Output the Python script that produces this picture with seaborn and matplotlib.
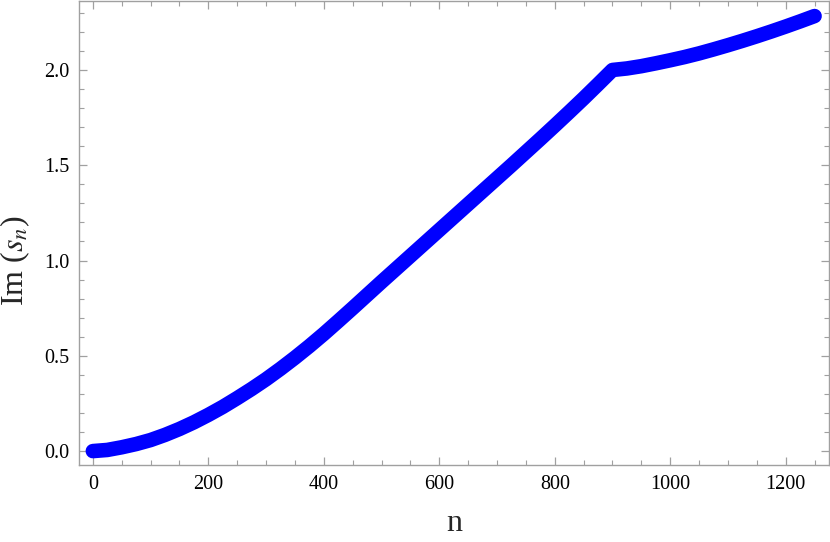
import numpy as np
import pandas as pd
import matplotlib
matplotlib.use("Agg")
import matplotlib.pyplot as plt
import seaborn as sns
from matplotlib.ticker import MultipleLocator

# values
n_vals = [0, 25, 50, 75, 100, 125, 150, 175, 200, 225, 250, 275, 300, 325,
          350, 375, 400, 425, 450, 475, 500, 525, 550, 575, 600, 625, 650,
          675, 700, 725, 750, 775, 800, 825, 850, 875, 900, 925, 950, 975,
          1000, 1025, 1050, 1075, 1100, 1125, 1150, 1175, 1200, 1225, 1250]
im_vals = [0.0, 0.006, 0.020, 0.037, 0.058, 0.085, 0.116, 0.151, 0.190,
           0.232, 0.278, 0.326, 0.377, 0.432, 0.490, 0.551, 0.615, 0.682,
           0.750, 0.819, 0.888, 0.956, 1.024, 1.092, 1.160, 1.228, 1.296,
           1.364, 1.432, 1.500, 1.569, 1.638, 1.708, 1.779, 1.851, 1.925,
           2.000, 2.008, 2.020, 2.035, 2.051, 2.068, 2.087, 2.108, 2.130,
           2.153, 2.177, 2.202, 2.228, 2.255, 2.283]

df = pd.DataFrame({"n": n_vals, "im": im_vals})

sns.set_style("ticks")
plt.rcParams["font.family"] = ["Liberation Serif", "DejaVu Serif"]
plt.rcParams["mathtext.fontset"] = "stix"

fig = plt.figure(figsize=(8.3, 5.42), dpi=100)
ax = fig.add_axes([79 / 830, 77 / 542, 750 / 830, 464 / 542])

sns.lineplot(data=df, x="n", y="im", ax=ax, color="#0000ff", linewidth=10.5,
             solid_capstyle="round", solid_joinstyle="round")

ax.set_xlim(-24, 1275)
ax.set_ylim(-0.073, 2.362)
ax.xaxis.set_major_locator(MultipleLocator(200))
ax.xaxis.set_minor_locator(MultipleLocator(50))
ax.yaxis.set_major_locator(MultipleLocator(0.5))
ax.yaxis.set_minor_locator(MultipleLocator(0.1))
ax.yaxis.set_major_formatter(matplotlib.ticker.FormatStrFormatter("%.1f"))

frame = "#a0a0a0"
for s in ax.spines.values():
    s.set_color(frame)
    s.set_linewidth(1.0)
ax.tick_params(which="both", direction="in", top=True, right=True,
               color=frame, labelsize=14.5, labelcolor="black")
ax.tick_params(which="major", length=6, width=0.9, pad=7)
ax.tick_params(which="minor", length=3.5, width=0.8)

ax.set_xlabel("n", fontsize=23, va="center")
ax.set_ylabel(r"Im ($s_n$)", fontsize=23, va="center")
ax.xaxis.set_label_coords(0.5, -0.127)
ax.yaxis.set_label_coords(-0.085, 0.44)

fig.savefig("out.png", dpi=100)
